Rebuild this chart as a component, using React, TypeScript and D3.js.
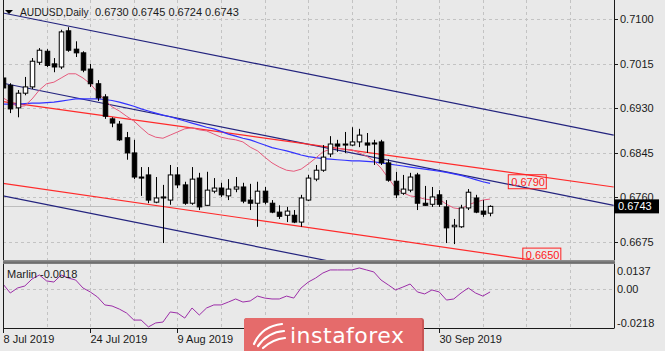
import * as d3 from 'd3'
import { useEffect, useRef } from 'react'

// daily bars, index 0 = 8 Jul 2019
const opens = [
  0.6988, 0.6974, 0.6931, 0.6959, 0.6971, 0.7018, 0.7039, 0.7015, 0.7009, 0.7078,
  0.7043, 0.7036, 0.7005, 0.6977, 0.6952, 0.691, 0.69, 0.6874, 0.6845, 0.6799,
  0.6803, 0.6751, 0.6759, 0.6755, 0.6803, 0.6784, 0.6749, 0.6797, 0.6745, 0.6772,
  0.6778, 0.6763, 0.6776, 0.678, 0.6755, 0.6749, 0.6772, 0.6749, 0.6732, 0.6726,
  0.6726, 0.6713, 0.6755, 0.6795, 0.6812, 0.6843, 0.6862, 0.6862, 0.686, 0.6866,
  0.6864, 0.6864, 0.6866, 0.6826, 0.6791, 0.6768, 0.6774, 0.6803, 0.6749, 0.6747,
  0.6765, 0.6742, 0.6704, 0.6704, 0.674, 0.6759, 0.6734, 0.673,
]
const highs = [
  0.6999, 0.6978, 0.6965, 0.699, 0.7026, 0.7045, 0.7043, 0.7026, 0.708, 0.7085,
  0.7058, 0.7039, 0.7015, 0.6984, 0.6957, 0.6913, 0.6906, 0.6885, 0.687, 0.6818,
  0.6818, 0.6799, 0.6784, 0.6822, 0.6818, 0.679, 0.6818, 0.6807, 0.6809, 0.6797,
  0.6788, 0.6795, 0.6799, 0.6788, 0.6786, 0.679, 0.678, 0.6755, 0.6745, 0.6742,
  0.6736, 0.6765, 0.6803, 0.6822, 0.686, 0.6877, 0.687, 0.6885, 0.6894, 0.6891,
  0.6883, 0.687, 0.687, 0.6833, 0.6809, 0.6803, 0.6807, 0.6807, 0.6782, 0.678,
  0.6774, 0.6755, 0.6719, 0.6746, 0.6776, 0.6765, 0.6755, 0.6745,
]
const lows = [
  0.6961, 0.6921, 0.6913, 0.6955, 0.6967, 0.7013, 0.7009, 0.6999, 0.7005, 0.7038,
  0.7028, 0.6999, 0.6971, 0.6944, 0.691, 0.6894, 0.6868, 0.6832, 0.6795, 0.6763,
  0.6749, 0.6749, 0.6673, 0.6746, 0.6778, 0.6746, 0.6746, 0.6736, 0.6744, 0.6768,
  0.6761, 0.6755, 0.677, 0.6749, 0.6736, 0.6704, 0.6747, 0.673, 0.6719, 0.6713,
  0.6711, 0.6704, 0.6753, 0.6791, 0.6809, 0.6837, 0.6847, 0.6845, 0.6858, 0.6856,
  0.6845, 0.6822, 0.6822, 0.679, 0.6759, 0.6765, 0.677, 0.6736, 0.6744, 0.6742,
  0.6742, 0.6673, 0.6671, 0.6702, 0.6736, 0.673, 0.6723, 0.6724,
]
const closes = [
  0.6969, 0.6929, 0.6959, 0.6971, 0.702, 0.7041, 0.7012, 0.7009, 0.7076, 0.7041,
  0.7036, 0.7003, 0.6977, 0.695, 0.6915, 0.6902, 0.687, 0.6845, 0.6799, 0.6797,
  0.6755, 0.6759, 0.6761, 0.6803, 0.6784, 0.6749, 0.6795, 0.6742, 0.6774, 0.6778,
  0.6765, 0.6776, 0.678, 0.6753, 0.6749, 0.6772, 0.6751, 0.6732, 0.6724, 0.6734,
  0.6713, 0.6759, 0.6797, 0.6812, 0.6837, 0.6862, 0.6858, 0.686, 0.6866, 0.6879,
  0.686, 0.6862, 0.6826, 0.6793, 0.6765, 0.6776, 0.6799, 0.6749, 0.6745, 0.6761,
  0.6747, 0.6702, 0.6707, 0.674, 0.677, 0.6732, 0.6728, 0.6743,
]
const fastMa = [
  0.695, 0.6942, 0.6933, 0.6935, 0.6948, 0.6965, 0.6977, 0.698, 0.6988, 0.6996,
  0.6996, 0.6988, 0.6977, 0.6961, 0.6946, 0.6933, 0.6925, 0.6915, 0.6906, 0.6893,
  0.6881, 0.6875, 0.6873, 0.6879, 0.6885, 0.6891, 0.6893, 0.6889, 0.6887, 0.6881,
  0.6875, 0.6872, 0.687, 0.6866, 0.6856, 0.6849, 0.6837, 0.6826, 0.6818, 0.6812,
  0.681, 0.6814, 0.6824, 0.6835, 0.6847, 0.6852, 0.6854, 0.6852, 0.6851, 0.6845,
  0.6839, 0.683, 0.6816, 0.6797, 0.6778, 0.6769, 0.6763, 0.6761, 0.6757, 0.6755,
  0.6757, 0.6747, 0.674, 0.6738, 0.6746, 0.6751, 0.6755, 0.6757,
]
const slowMa = [
  0.6938, 0.6938, 0.6938, 0.6939, 0.694, 0.694, 0.6941, 0.6942, 0.6944, 0.6946,
  0.6948, 0.6948, 0.6948, 0.6948, 0.6947, 0.6945, 0.6942, 0.6938, 0.6934, 0.6929,
  0.6925, 0.6921, 0.6917, 0.6914, 0.691, 0.6906, 0.6902, 0.6898, 0.6894, 0.6891,
  0.6886, 0.6881, 0.6877, 0.6873, 0.687, 0.6865, 0.686, 0.6855, 0.6852, 0.6849,
  0.6845, 0.6841, 0.6838, 0.6836, 0.6834, 0.6833, 0.6832, 0.6831, 0.683, 0.683,
  0.6829, 0.6828, 0.6826, 0.6824, 0.6822, 0.682, 0.6818, 0.6816, 0.6814, 0.6812,
  0.681, 0.6808, 0.6805, 0.6802, 0.6798, 0.6794, 0.679, 0.6787,
]
const marlin = [
  0.0026, -0.0024, 0.0004, 0.0015, 0.0054, 0.0076, 0.0043, 0.0037, 0.0076, 0.0059,
  0.0048, 0.0004, -0.0018, -0.0046, -0.009, -0.0096, -0.0113, -0.0135, -0.0174, -0.0174,
  -0.0212, -0.019, -0.0185, -0.0129, -0.0135, -0.0163, -0.0107, -0.0146, -0.0107, -0.009,
  -0.009, -0.0074, -0.0057, -0.0074, -0.0068, -0.0041, -0.0052, -0.0057, -0.0057, -0.0041,
  -0.0052, 0.0004, 0.0037, 0.0059, 0.0087, 0.0104, 0.0104, 0.0104, 0.0104, 0.0115,
  0.0104, 0.0093, 0.0048, 0.0021, -0.0007, 0.0009, 0.0026, -0.0018, -0.0029, -0.0007,
  -0.0018, -0.0063, -0.0057, -0.0024, 0.0004, -0.0024, -0.0041, -0.0018,
]

const priceTicks = [0.71, 0.7015, 0.693, 0.6845, 0.676, 0.6675]
const marlinTicks = [0.0137, 0, -0.0218]
// time ticks every 6 bars; the labels under the watermark are not visible
const dateTickIdx = [0, 12, 24, 36, 48, 60]
const dateTickLabels = ['8 Jul 2019', '24 Jul 2019', '9 Aug 2019', '', '', '30 Sep 2019']

// trend lines: price at bar 0 and at bar 84 (right edge)
const navyLines = [
  [0.7112, 0.6879],
  [0.6978, 0.6745],
  [0.6763, 0.653],
]
const redLines = [
  [0.6943, 0.678],
  [0.6787, 0.6618],
]
const levelLabels = [
  { i: 69.5, p: 0.679 },
  { i: 71.5, p: 0.665 },
]

const FONT = "'Liberation Sans', Arial, sans-serif"

const App = () => {
  const ref = useRef<HTMLDivElement>(null)

  useEffect(() => {
    const root = d3.select(ref.current)
    root.selectAll('*').remove()

    const width = 665
    const height = 351
    const left = 3
    const right = 614
    const mainBottom = 260
    const indTop = 264
    const indBottom = 328

    const x = d3.scaleLinear().domain([0, 84]).range([3, 613.7])
    const y = d3.scaleLinear().domain([0.71, 0.6675]).range([19.3, 242])
    const yi = d3.scaleLinear().domain([0.0137, -0.0218]).range([indTop, indBottom])

    const svg = root
      .append('svg')
      .attr('width', width)
      .attr('height', height)
      .style('position', 'absolute')
      .style('left', '0px')
      .style('top', '0px')
      .style('font-family', FONT)

    svg.append('rect').attr('width', width).attr('height', height).attr('fill', '#e9e9e9')

    const defs = svg.append('defs')
    defs
      .append('clipPath')
      .attr('id', 'clipMain')
      .append('rect')
      .attr('x', left)
      .attr('y', 0)
      .attr('width', right - left)
      .attr('height', mainBottom)
    defs
      .append('clipPath')
      .attr('id', 'clipInd')
      .append('rect')
      .attr('x', left)
      .attr('y', indTop)
      .attr('width', right - left)
      .attr('height', indBottom - indTop)

    // grid
    const grid = svg.append('g').attr('stroke', '#c3c3c3').attr('stroke-dasharray', '3,3')
    for (let k = 1; k <= 13; k++) {
      const gx = Math.round(x(k * 6)) + 0.5
      grid.append('line').attr('x1', gx).attr('x2', gx).attr('y1', 0).attr('y2', mainBottom)
      grid.append('line').attr('x1', gx).attr('x2', gx).attr('y1', indTop).attr('y2', indBottom)
    }
    priceTicks.forEach((p) => {
      const gy = Math.round(y(p)) + 0.5
      grid.append('line').attr('x1', left).attr('x2', right).attr('y1', gy).attr('y2', gy)
    })
    const zy = Math.round(yi(0)) + 0.5
    grid.append('line').attr('x1', left).attr('x2', right).attr('y1', zy).attr('y2', zy)

    const main = svg.append('g').attr('clip-path', 'url(#clipMain)')

    // bid line
    const bid = closes[closes.length - 1]
    main
      .append('line')
      .attr('x1', left)
      .attr('x2', right)
      .attr('y1', Math.round(y(bid)) + 0.5)
      .attr('y2', Math.round(y(bid)) + 0.5)
      .attr('stroke', '#bdbdbd')

    // channels
    navyLines.forEach((l) => {
      main
        .append('line')
        .attr('x1', x(0))
        .attr('y1', y(l[0]))
        .attr('x2', x(84))
        .attr('y2', y(l[1]))
        .attr('stroke', '#23237e')
        .attr('stroke-width', 1.2)
    })
    redLines.forEach((l) => {
      main
        .append('line')
        .attr('x1', x(0))
        .attr('y1', y(l[0]))
        .attr('x2', x(84))
        .attr('y2', y(l[1]))
        .attr('stroke', '#ff2a2a')
        .attr('stroke-width', 1.2)
    })

    // moving averages
    const maLine = d3
      .line<number>()
      .x((_, i) => x(i))
      .y((d) => y(d))
    main
      .append('path')
      .datum(slowMa)
      .attr('d', maLine)
      .attr('fill', 'none')
      .attr('stroke', '#3333ff')
      .attr('stroke-width', 1.2)
    main
      .append('path')
      .datum(fastMa)
      .attr('d', maLine)
      .attr('fill', 'none')
      .attr('stroke', '#e65a7c')
      .attr('stroke-width', 1)

    // candles
    const bw = 4.5
    opens.forEach((o, i) => {
      const c = closes[i]
      const cx = Math.round(x(i)) + 0.5
      const g = main.append('g')
      g.append('line')
        .attr('x1', cx)
        .attr('x2', cx)
        .attr('y1', y(highs[i]))
        .attr('y2', y(lows[i]))
        .attr('stroke', '#000')
      const top = y(Math.max(o, c))
      const h = Math.max(1, y(Math.min(o, c)) - top)
      g.append('rect')
        .attr('x', cx - bw / 2)
        .attr('y', top)
        .attr('width', bw)
        .attr('height', h)
        .attr('fill', c >= o ? '#fff' : '#000')
        .attr('stroke', '#000')
        .attr('stroke-width', 1)
    })

    // level labels
    levelLabels.forEach((l) => {
      const lx = x(l.i)
      const ly = y(l.p)
      svg
        .append('rect')
        .attr('x', lx)
        .attr('y', ly - 7)
        .attr('width', 38)
        .attr('height', 14)
        .attr('fill', 'none')
        .attr('stroke', '#ff2020')
      svg
        .append('text')
        .attr('x', lx + 3)
        .attr('y', ly + 4)
        .attr('font-size', 11)
        .attr('fill', '#ff2020')
        .text(l.p.toFixed(4))
    })

    // marlin
    svg
      .append('g')
      .attr('clip-path', 'url(#clipInd)')
      .append('path')
      .datum(marlin)
      .attr(
        'd',
        d3
          .line<number>()
          .x((_, i) => x(i))
          .y((d) => yi(d))
      )
      .attr('fill', 'none')
      .attr('stroke', '#9c2ea8')
      .attr('stroke-width', 1)

    // frame
    const frame = svg.append('g').attr('stroke', '#1a1a1a')
    frame.append('line').attr('x1', left + 0.5).attr('x2', left + 0.5).attr('y1', 0).attr('y2', indBottom)
    frame.append('line').attr('x1', right + 0.5).attr('x2', right + 0.5).attr('y1', 0).attr('y2', indBottom + 0.5)
    frame.append('line').attr('x1', left).attr('x2', right).attr('y1', indBottom + 0.5).attr('y2', indBottom + 0.5)
    svg.append('rect').attr('x', left).attr('y', mainBottom).attr('width', right - left + 1).attr('height', 4).attr('fill', '#8c8c8c')
    svg.append('rect').attr('x', left).attr('y', mainBottom + 1.5).attr('width', right - left + 1).attr('height', 2).attr('fill', '#6e6e6e')

    // right axis
    priceTicks.forEach((p) => {
      const ty = Math.round(y(p)) + 0.5
      svg.append('line').attr('x1', right).attr('x2', right + 4).attr('y1', ty).attr('y2', ty).attr('stroke', '#1a1a1a')
      svg
        .append('text')
        .attr('x', 620)
        .attr('y', y(p) + 4)
        .attr('font-size', 11)
        .attr('fill', '#1a1a1a')
        .text(p.toFixed(4))
    })
    marlinTicks.forEach((v, k) => {
      const ty = k === 0 ? 270.7 : k === 2 ? 322.7 : yi(v)
      svg
        .append('text')
        .attr('x', 617)
        .attr('y', ty + 4)
        .attr('font-size', 11)
        .attr('fill', '#1a1a1a')
        .text(v === 0 ? '0.00' : v.toFixed(4))
    })

    // bid label
    svg.append('rect').attr('x', right).attr('y', y(bid) - 7).attr('width', 45).attr('height', 14).attr('fill', '#000')
    svg
      .append('text')
      .attr('x', right + 4)
      .attr('y', y(bid) + 4)
      .attr('font-size', 11)
      .attr('fill', '#fff')
      .text(bid.toFixed(4))

    // time axis
    dateTickIdx.forEach((i, k) => {
      const tx = Math.round(x(i)) + 0.5
      svg.append('line').attr('x1', tx).attr('x2', tx).attr('y1', indBottom).attr('y2', indBottom + 5).attr('stroke', '#1a1a1a')
      if (dateTickLabels[k]) {
        svg
          .append('text')
          .attr('x', tx)
          .attr('y', 343)
          .attr('font-size', 11)
          .attr('fill', '#1a1a1a')
          .text(dateTickLabels[k])
      }
    })

    // header
    svg.append('path').attr('d', 'M5,10 L13,10 L9,14 Z').attr('fill', '#000')
    svg.append('text').attr('x', 20).attr('y', 16).attr('font-size', 10.2).attr('fill', '#1a1a1a').text('AUDUSD,Daily')
    svg
      .append('text')
      .attr('x', 95)
      .attr('y', 16)
      .attr('font-size', 11)
      .attr('fill', '#1a1a1a')
      .text([opens, highs, lows, closes].map((a) => a[a.length - 1].toFixed(4)).join(' '))
    svg
      .append('text')
      .attr('x', 7)
      .attr('y', 278)
      .attr('font-size', 11)
      .attr('fill', '#1a1a1a')
      .text('Marlin ' + marlin[marlin.length - 1].toFixed(4))

    // watermark
    const logo = svg.append('g')
    logo.append('rect').attr('x', 244).attr('y', 318).attr('width', 180).attr('height', 40).attr('rx', 3).attr('fill', '#c95656')
    logo.append('rect').attr('x', 244).attr('y', 318).attr('width', 178).attr('height', 40).attr('rx', 3).attr('fill', '#e56b6b')
    const ic = logo.append('g').attr('fill', 'none').attr('stroke', '#fff').attr('stroke-width', 2.2).attr('stroke-linecap', 'round')
    ic.append('path').attr('d', 'M254,344 Q262,326 282,324')
    ic.append('path').attr('d', 'M258,346 Q268,332 284,331')
    ic.append('path').attr('d', 'M263,348 Q273,339 285,338')
    logo
      .append('text')
      .attr('x', 290)
      .attr('y', 343)
      .attr('font-family', "'DejaVu Sans', sans-serif")
      .attr('font-size', 22)
      .attr('textLength', 114)
      .attr('fill', '#fff')
      .text('instaforex')
  }, [])

  return <div ref={ref}></div>
}

export default App
